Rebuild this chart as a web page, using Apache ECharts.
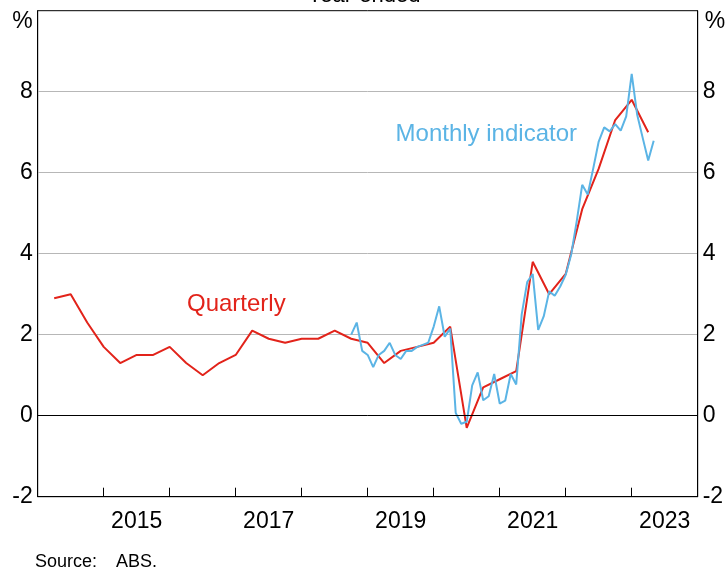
<!DOCTYPE html>
<html>
<head>
<meta charset="utf-8">
<script src="https://cdn.jsdelivr.net/npm/echarts@6/dist/echarts.min.js"></script>
<style>
html,body{margin:0;padding:0;background:#fff;}
#main{width:727px;height:572px;}
</style>
</head>
<body>
<div id="main"></div>
<script>
// year-ended CPI, quarterly from Mar 2014
var quarterlyStart = [2014, 3];
var quarterlyValues = [
    2.9, 3.0, 2.3, 1.7,
    1.3, 1.5, 1.5, 1.7,
    1.3, 1.0, 1.3, 1.5,
    2.1, 1.9, 1.8, 1.9,
    1.9, 2.1, 1.9, 1.8,
    1.3, 1.6, 1.7, 1.8,
    2.2, -0.3, 0.7, 0.9,
    1.1, 3.8, 3.0, 3.5,
    5.1, 6.1, 7.3, 7.8,
    7.0
];
// monthly indicator from Sep 2018
var monthlyStart = [2018, 9];
var monthlyValues = [
    2.0, 2.3, 1.6, 1.5,
    1.2, 1.5, 1.6, 1.8, 1.5, 1.4, 1.6, 1.6, 1.7, 1.75, 1.8, 2.2,
    2.7, 1.95, 2.15, 0.07, -0.2, -0.15, 0.75, 1.07, 0.38, 0.48, 1.03, 0.3,
    0.37, 1.03, 0.77, 2.5, 3.3, 3.5, 2.12, 2.45, 3.07, 2.96, 3.19, 3.48,
    3.98, 4.8, 5.7, 5.46, 6.1, 6.77, 7.12, 7.02, 7.2, 7.04, 7.39, 8.44,
    7.43, 6.86, 6.3, 6.79
];
var yearTicks = [2015, 2016, 2017, 2018, 2019, 2020, 2021, 2022, 2023];
var yearLabels = [2015, 2017, 2019, 2021, 2023];

var FONT = 'Liberation Sans, Arial, sans-serif';
var RED = '#e2231a', BLUE = '#5bb4e5';

function toSeries(start, vals, step){
    var out = [];
    for (var i = 0; i < vals.length; i++) {
        var m = start[1] + i * step;
        out.push([start[0] + m / 12, vals[i]]);
    }
    return out;
}

var yAxisBase = {
    type: 'value', min: -2, max: 10, interval: 2,
    axisLine: {show: true, lineStyle: {color: '#000', width: 1}},
    axisTick: {show: false},
    axisLabel: {
        color: '#000', fontFamily: FONT, fontSize: 23, margin: 5,
        formatter: function (v) { return v === 10 ? '' : v; }
    }
};

var option = {
    animation: false,
    grid: {left: 37.7, right: 29.3, top: 10.7, bottom: 75.3, show: true, borderColor: '#000', borderWidth: 1},
    xAxis: {
        type: 'value', min: 2014, max: 2024,
        axisLine: {onZero: false, lineStyle: {color: '#000', width: 1}},
        axisTick: {show: true, inside: true, length: 9, customValues: yearTicks, lineStyle: {color: '#000'}},
        axisLabel: {
            color: '#000', fontFamily: FONT, fontSize: 23, margin: 13,
            customValues: yearLabels.map(function (y) { return y + 0.5; }),
            formatter: function (v) { return String(Math.floor(v)); }
        },
        splitLine: {show: false}
    },
    yAxis: [
        Object.assign({}, yAxisBase, {position: 'left', splitLine: {show: true, showMinLine: false, showMaxLine: false, lineStyle: {color: '#b7b7b7', width: 1}}}),
        Object.assign({}, yAxisBase, {position: 'right', splitLine: {show: false}})
    ],
    series: [
        {
            name: 'Quarterly', type: 'line', symbol: 'none',
            lineStyle: {color: RED, width: 2},
            data: toSeries(quarterlyStart, quarterlyValues, 3),
            markLine: {
                silent: true, symbol: 'none', label: {show: false},
                lineStyle: {color: '#000', width: 1, type: 'solid'},
                data: [{yAxis: 0}]
            },
            z: 3
        },
        {
            name: 'Monthly indicator', type: 'line', symbol: 'none',
            lineStyle: {color: BLUE, width: 2},
            data: toSeries(monthlyStart, monthlyValues, 1),
            z: 4
        }
    ],
    graphic: [
        {type: 'text', x: 364, y: -4, style: {text: 'Year-ended', font: '22px ' + FONT, fill: '#000', align: 'center', verticalAlign: 'middle'}},
        {type: 'text', x: 22.5, y: 22, style: {text: '%', font: '23px ' + FONT, fill: '#000', align: 'center', verticalAlign: 'middle'}},
        {type: 'text', x: 715, y: 22, style: {text: '%', font: '23px ' + FONT, fill: '#000', align: 'center', verticalAlign: 'middle'}},
        {type: 'text', x: 187, y: 304, style: {text: 'Quarterly', font: '24px ' + FONT, fill: RED, align: 'left', verticalAlign: 'middle'}},
        {type: 'text', x: 577, y: 134, style: {text: 'Monthly indicator', font: '24px ' + FONT, fill: BLUE, align: 'right', verticalAlign: 'middle'}},
        {type: 'text', x: 35, y: 562, style: {text: 'Source:', font: '18px ' + FONT, fill: '#000', align: 'left', verticalAlign: 'middle'}},
        {type: 'text', x: 116, y: 562, style: {text: 'ABS.', font: '18px ' + FONT, fill: '#000', align: 'left', verticalAlign: 'middle'}}
    ]
};

var myChart = echarts.init(document.getElementById('main'));
myChart.setOption(option);
</script>
</body>
</html>
